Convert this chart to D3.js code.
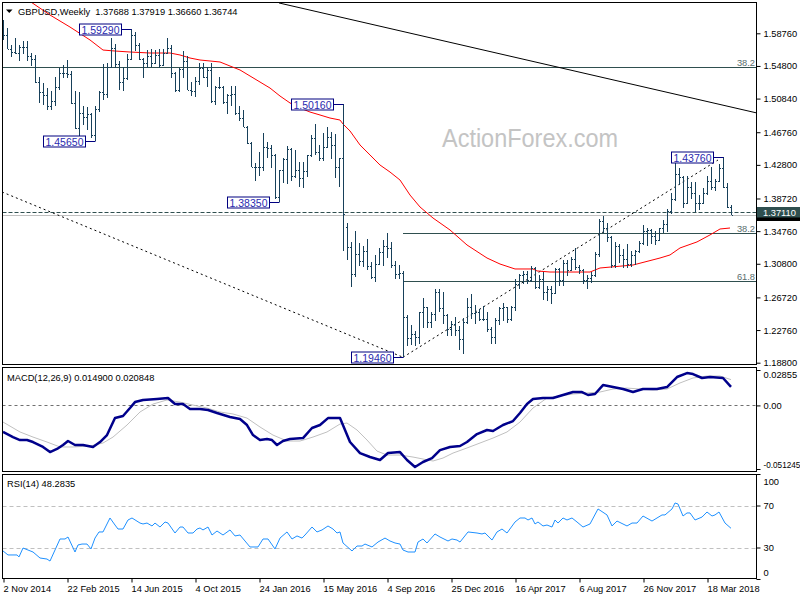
<!DOCTYPE html>
<html><head><meta charset="utf-8">
<script src="https://cdn.jsdelivr.net/npm/d3@7"></script>
<style>
body{margin:0;background:#fff}
svg{display:block}
text{font-family:"Liberation Sans",Arial,sans-serif}
</style>
</head><body>
<svg id="c" width="800" height="600"></svg>
<script>
// ---------- DATA ----------
const title = "GBPUSD,Weekly  1.37688 1.37919 1.36660 1.36744";
const macdTitle = "MACD(12,26,9) 0.014900 0.020848";
const rsiTitle = "RSI(14) 48.2835";

const opens = [1.5985,1.5860,1.5690,1.5650,1.5640,1.5705,1.5710,1.5600,1.5560,1.5290,1.5160,1.5130,1.5000,1.5050,1.5230,1.5400,1.5390,1.5380,1.5030,1.4730,1.4910,1.4860,1.4900,1.4640,1.4960,1.5160,1.5140,1.5470,1.5700,1.5500,1.5280,1.5330,1.5570,1.5860,1.5740,1.5560,1.5510,1.5600,1.5510,1.5610,1.5490,1.5640,1.5700,1.5400,1.5190,1.5440,1.5540,1.5190,1.5180,1.5300,1.5460,1.5350,1.5430,1.5050,1.5220,1.5220,1.5040,1.5130,1.5140,1.4910,1.4850,1.4740,1.4540,1.4260,1.4260,1.4250,1.4500,1.4490,1.4400,1.3890,1.4220,1.4350,1.4470,1.4140,1.4220,1.4120,1.4200,1.4400,1.4610,1.4440,1.4360,1.4500,1.4620,1.4520,1.4250,1.4360,1.3530,1.3280,1.2950,1.3200,1.3110,1.3230,1.3050,1.2920,1.3080,1.3220,1.3300,1.3270,1.3070,1.2960,1.2970,1.2430,1.2180,1.2230,1.2190,1.2490,1.2550,1.2370,1.2470,1.2740,1.2540,1.2460,1.2290,1.2350,1.2280,1.2170,1.2370,1.2560,1.2480,1.2490,1.2410,1.2410,1.2290,1.2190,1.2400,1.2540,1.2550,1.2410,1.2560,1.2830,1.2940,1.2960,1.2880,1.3030,1.2800,1.2890,1.2740,1.2780,1.2720,1.3020,1.2880,1.3090,1.3000,1.3140,1.3040,1.3010,1.2880,1.2910,1.2940,1.3200,1.3600,1.3510,1.3400,1.3070,1.3290,1.3190,1.3140,1.3080,1.3190,1.3230,1.3330,1.3480,1.3490,1.3420,1.3370,1.3510,1.3560,1.3720,1.3860,1.4170,1.4130,1.3820,1.4010,1.3940,1.3820,1.3820,1.3940,1.4090,1.4010,1.4090,1.4240,1.4011,1.3769];
const highs = [1.6040,1.5945,1.5740,1.5825,1.5735,1.5785,1.5785,1.5635,1.5615,1.5340,1.5270,1.5215,1.5170,1.5350,1.5450,1.5490,1.5550,1.5420,1.5170,1.5160,1.4990,1.4980,1.4910,1.5000,1.5170,1.5500,1.5520,1.5815,1.5750,1.5540,1.5470,1.5620,1.5929,1.5890,1.5760,1.5580,1.5675,1.5690,1.5670,1.5690,1.5690,1.5820,1.5740,1.5410,1.5460,1.5660,1.5600,1.5280,1.5340,1.5510,1.5510,1.5470,1.5510,1.5240,1.5340,1.5240,1.5140,1.5240,1.5240,1.4990,1.4940,1.4750,1.4560,1.4300,1.4440,1.4670,1.4560,1.4520,1.4410,1.4220,1.4360,1.4510,1.4480,1.4460,1.4320,1.4310,1.4400,1.4640,1.4770,1.4520,1.4670,1.4740,1.4680,1.4660,1.4360,1.5016,1.3570,1.3340,1.3480,1.3330,1.3290,1.3380,1.3100,1.3190,1.3270,1.3370,1.3450,1.3340,1.3110,1.3060,1.2990,1.2460,1.2340,1.2270,1.2500,1.2670,1.2560,1.2500,1.2770,1.2770,1.2740,1.2470,1.2390,1.2440,1.2330,1.2420,1.2670,1.2710,1.2580,1.2530,1.2570,1.2490,1.2310,1.2420,1.2550,1.2610,1.2560,1.2570,1.2900,1.2950,1.2990,1.2990,1.3050,1.3040,1.2940,1.2980,1.2810,1.2810,1.3030,1.3030,1.3120,1.3120,1.3160,1.3270,1.3070,1.3020,1.2940,1.2980,1.3220,1.3620,1.3660,1.3580,1.3420,1.3340,1.3320,1.3260,1.3320,1.3230,1.3250,1.3360,1.3550,1.3520,1.3500,1.3480,1.3520,1.3610,1.3750,1.3940,1.4345,1.4240,1.4140,1.4150,1.4070,1.4070,1.3920,1.4000,1.4140,1.4250,1.4110,1.4290,1.4376,1.4058,1.3792];
const lows = [1.5790,1.5680,1.5590,1.5620,1.5540,1.5620,1.5540,1.5485,1.5270,1.5035,1.5010,1.4950,1.4950,1.5000,1.5190,1.5330,1.5330,1.5020,1.4720,1.4630,1.4760,1.4700,1.4600,1.4565,1.4920,1.5070,1.5090,1.5450,1.5450,1.5190,1.5170,1.5310,1.5550,1.5660,1.5550,1.5330,1.5450,1.5470,1.5500,1.5460,1.5480,1.5620,1.5330,1.5160,1.5160,1.5330,1.5190,1.5110,1.5100,1.5250,1.5330,1.5220,1.5030,1.5010,1.5200,1.5020,1.4895,1.5000,1.4880,1.4810,1.4740,1.4530,1.4260,1.4080,1.4150,1.4200,1.4360,1.4240,1.3870,1.3835,1.4060,1.4050,1.4080,1.4120,1.4010,1.4000,1.4130,1.4380,1.4400,1.4330,1.4330,1.4490,1.4350,1.4120,1.4010,1.3229,1.3120,1.2798,1.2920,1.3050,1.3040,1.3010,1.2890,1.2860,1.3060,1.3050,1.3150,1.3030,1.2900,1.2900,1.1946,1.2080,1.2090,1.2080,1.2110,1.2300,1.2300,1.2300,1.2390,1.2500,1.2350,1.2200,1.2200,1.2200,1.2040,1.1990,1.2350,1.2410,1.2350,1.2380,1.2380,1.2250,1.2110,1.2110,1.2340,1.2380,1.2360,1.2380,1.2510,1.2780,1.2840,1.2840,1.2860,1.2780,1.2770,1.2640,1.2630,1.2590,1.2710,1.2810,1.2810,1.2930,1.2990,1.3010,1.2950,1.2840,1.2770,1.2850,1.2920,1.3160,1.3450,1.3340,1.3030,1.3030,1.3090,1.3030,1.3030,1.3040,1.3060,1.3210,1.3310,1.3300,1.3320,1.3310,1.3360,1.3450,1.3460,1.3680,1.3840,1.4030,1.3760,1.3810,1.3860,1.3710,1.3730,1.3810,1.3910,1.3980,1.3960,1.4070,1.4004,1.3758,1.3666];
const closes = [1.5860,1.5690,1.5650,1.5640,1.5705,1.5710,1.5600,1.5560,1.5290,1.5160,1.5130,1.5000,1.5050,1.5230,1.5400,1.5390,1.5380,1.5030,1.4730,1.4910,1.4860,1.4900,1.4640,1.4960,1.5160,1.5140,1.5470,1.5700,1.5500,1.5280,1.5330,1.5570,1.5860,1.5740,1.5560,1.5510,1.5600,1.5510,1.5610,1.5490,1.5640,1.5700,1.5400,1.5190,1.5440,1.5540,1.5190,1.5180,1.5300,1.5460,1.5350,1.5430,1.5050,1.5220,1.5220,1.5040,1.5130,1.5140,1.4910,1.4850,1.4740,1.4540,1.4260,1.4260,1.4250,1.4500,1.4490,1.4400,1.3890,1.4220,1.4350,1.4470,1.4140,1.4220,1.4120,1.4200,1.4400,1.4610,1.4440,1.4360,1.4500,1.4620,1.4520,1.4250,1.4360,1.3680,1.3280,1.2950,1.3200,1.3110,1.3230,1.3050,1.2920,1.3080,1.3220,1.3300,1.3270,1.3070,1.2960,1.2970,1.2430,1.2180,1.2230,1.2190,1.2490,1.2550,1.2370,1.2470,1.2740,1.2540,1.2460,1.2290,1.2350,1.2280,1.2170,1.2370,1.2560,1.2480,1.2490,1.2410,1.2410,1.2290,1.2190,1.2400,1.2540,1.2550,1.2410,1.2560,1.2830,1.2940,1.2960,1.2880,1.3030,1.2800,1.2890,1.2740,1.2780,1.2720,1.3020,1.2880,1.3090,1.3000,1.3140,1.3040,1.3010,1.2880,1.2910,1.2940,1.3200,1.3600,1.3510,1.3400,1.3070,1.3290,1.3190,1.3140,1.3080,1.3190,1.3230,1.3330,1.3480,1.3490,1.3420,1.3370,1.3510,1.3560,1.3720,1.3860,1.4170,1.4130,1.3820,1.4010,1.3940,1.3820,1.3820,1.3940,1.4090,1.4010,1.4090,1.4240,1.4011,1.3769,1.3674];

const maWeeks = [6.25,11.75,16.75,21.75,25,28,31.75,36.75,41.75,44.25,46.75,49.25,51.75,54.25,56.75,59.25,61.75,64.25,66.75,69.25,71.75,74.25,76.75,79.25,81.75,84.25,85,86.75,89.25,91.75,94.25,96.75,99.25,101.75,104.25,107.5,111.75,116,121,124.25,128,132.5,133.5,136.75,145,146.75,149.25,157.5,164.25,166.75,169.25,173.5,176.75,179.25,181.75];
const maValues = [1.6280,1.6098,1.5952,1.5795,1.5673,1.5661,1.5649,1.5637,1.5637,1.5613,1.5576,1.5552,1.5540,1.5528,1.5479,1.5431,1.5358,1.5285,1.5212,1.5115,1.5031,1.4970,1.4921,1.4885,1.4848,1.4824,1.4776,1.4691,1.4521,1.4400,1.4278,1.4193,1.4096,1.3914,1.3769,1.3635,1.3490,1.3308,1.3150,1.3077,1.3017,1.3017,1.2993,1.2980,1.2980,1.2980,1.3029,1.3065,1.3150,1.3187,1.3272,1.3345,1.3430,1.3502,1.3514];

const macdWeeks = [0,2.5,4.25,6,7.5,10,11.75,13.5,15,16.25,18,20,22.5,24.25,26,28,30,31.75,33,35,38.5,41.25,43,45,46.75,49.25,51.25,53.5,56.75,59.25,61,62.5,64.25,66,67.25,68.5,70,71.75,75,77.25,79.25,81.25,84.25,86.75,89.25,91.75,94.25,96.25,99.25,101,103,105,107.25,109.25,111.75,114.25,116,118.5,121,122.5,125,127.5,129.25,131,132.5,135,137.5,140,142.5,144.75,146.25,148,150,152.5,155,157.5,160,163.5,166,168.5,171,172.5,174.75,176.75,180,182];
const macdValues = [-0.0214,-0.0255,-0.0279,-0.0279,-0.0295,-0.0335,-0.0376,-0.0351,-0.0319,-0.0287,-0.0319,-0.0319,-0.0335,-0.0295,-0.0239,-0.0102,-0.0085,-0.0021,0.0027,0.0044,0.0052,0.0060,0.0011,0.0011,-0.0029,-0.0029,-0.0037,-0.0061,-0.0093,-0.0110,-0.0158,-0.0239,-0.0279,-0.0271,-0.0279,-0.0319,-0.0287,-0.0271,-0.0263,-0.0182,-0.0158,-0.0102,-0.0102,-0.0295,-0.0384,-0.0416,-0.0440,-0.0384,-0.0376,-0.0440,-0.0496,-0.0456,-0.0424,-0.0360,-0.0335,-0.0327,-0.0295,-0.0231,-0.0198,-0.0206,-0.0158,-0.0126,-0.0061,0.0011,0.0052,0.0060,0.0060,0.0084,0.0108,0.0108,0.0084,0.0092,0.0164,0.0148,0.0132,0.0108,0.0132,0.0132,0.0148,0.0229,0.0261,0.0253,0.0221,0.0229,0.0221,0.0149];
const signalWeeks = [0,4.25,7.5,11,14.25,17.5,21.75,25,27.5,31,34.25,37.5,41,44.25,47.5,51,54.25,57.5,61,64.25,67.5,71,74.25,77.5,81,84.25,86,88.5,91,93.5,96,99.25,102.5,105,107.5,110,112.5,116,119.25,122.5,126,129.25,132.5,136,139.25,142.5,146,149.25,152.5,156,159.25,162.5,166,169.25,172.5,176,179.25,182];
const signalValues = [-0.0134,-0.0214,-0.0255,-0.0295,-0.0335,-0.0335,-0.0327,-0.0303,-0.0255,-0.0158,-0.0053,0.0011,0.0044,0.0027,0.0003,-0.0021,-0.0053,-0.0069,-0.0102,-0.0174,-0.0239,-0.0287,-0.0287,-0.0255,-0.0214,-0.0150,-0.0142,-0.0198,-0.0279,-0.0368,-0.0400,-0.0400,-0.0416,-0.0432,-0.0448,-0.0424,-0.0384,-0.0343,-0.0303,-0.0263,-0.0214,-0.0134,-0.0021,0.0060,0.0076,0.0092,0.0100,0.0108,0.0132,0.0140,0.0132,0.0124,0.0132,0.0181,0.0221,0.0237,0.0237,0.0208];

const rsiWeeks = [0,1.25,3.5,4,5,6.25,7.5,9.25,11,11.75,13,14.25,15.5,16.25,18,18.75,19.75,21,22,23,24,25,26.75,28,28.75,30,31.25,32.25,34.25,35,36,37.25,38,39.25,40.5,41.25,43,44.25,45,46.25,47.5,48.5,49.25,50,51.25,52.25,53.5,55,56.75,58,59.25,61.75,63.75,65,66.25,68,69.25,71,72.25,73.5,74.75,75.5,77.25,78.5,79.75,81.25,82.5,83.5,84.25,85,87.25,88.5,89.75,90.5,92.25,93.75,95.5,96.75,98,99.25,100,101.25,103,103.75,105,106,108,109.25,111.25,112.25,113.5,114.25,116.25,118.5,119.75,120.5,122.25,123.5,124.75,126,128,129.25,130.5,131.25,132.25,133,133.75,135,136,137.25,138,138.75,140,141,142.25,143.5,145,146.75,148.75,151,152.25,153.5,156,157.25,158.5,160,162.25,163.5,164.75,165.5,167.25,168,168.75,170,171,171.75,173,174.75,176,177.25,178,179,180.5,182];
const rsiValues = [26.7,22.9,22.9,21.0,29.5,27.6,25.7,20.0,19.0,17.1,27.6,38.1,38.1,40.0,25.7,32.4,33.3,33.3,28.6,39.0,44.8,44.8,58.1,51.4,47.6,47.6,56.2,58.1,53.3,52.4,53.3,50.5,53.3,49.5,54.3,53.3,43.8,49.5,49.5,43.8,43.8,47.6,48.6,46.7,49.5,41.9,45.7,41.9,46.7,41.0,41.9,30.5,30.5,38.1,38.1,28.6,39.0,44.8,38.1,41.0,39.0,41.9,49.5,44.8,46.7,50.5,47.6,43.8,44.8,34.3,26.7,31.4,31.4,33.3,30.5,35.2,39.0,36.2,34.3,33.3,27.6,25.7,25.7,35.2,38.1,34.3,42.9,40.0,36.2,38.1,37.1,35.2,44.8,43.8,42.9,43.8,37.1,44.8,47.6,43.8,54.3,58.1,58.1,56.2,58.1,52.4,54.3,50.5,51.4,49.5,56.2,53.3,58.1,56.2,58.1,54.3,49.5,52.4,66.7,61.0,50.5,55.2,50.5,53.3,53.3,60.0,55.2,58.1,61.0,61.0,66.7,72.4,71.4,60.0,62.9,62.9,56.2,59.0,63.8,60.0,61.0,63.8,53.3,48.3];

const priceTicks = [1.58760,1.54800,1.50840,1.46760,1.42800,1.38720,1.34760,1.30800,1.26720,1.22760,1.18800];
const macdTicks = [0.02855,0.0,-0.051245];
const macdTickLabels = ["0.02855","0.00","-0.051245"];
const rsiTicks = [100,70,30,0];
const dateWeeks = [0,16,32,48,64,80,96,112,128,144,160,176];
const dateLabels = ["2 Nov 2014","22 Feb 2015","14 Jun 2015","4 Oct 2015","24 Jan 2016","15 May 2016","4 Sep 2016","25 Dec 2016","16 Apr 2017","6 Aug 2017","26 Nov 2017","18 Mar 2018"];

const swingWeeks = [32,23,85,69,100,180];
const swingPrices = [1.5929,1.4565,1.5016,1.3835,1.1946,1.4376];
const swingLabels = ["1.59290","1.45650","1.50160","1.38350","1.19460","1.43760"];

const fibPrices = [1.5470,1.3448,1.2874];
const fibStartWeeks = [-1,100,100];
const fibLabels = ["38.2","38.2","61.8"];
const supportLine = 1.3711, bidPrice = 1.36744;
const trendSolid = {weeks:[69,188.5], prices:[1.6244,1.4909]};
const trendDot1 = {weeks:[-0.25,100], prices:[1.3951,1.1946]};
const trendDot2 = {weeks:[100,178.75], prices:[1.1946,1.4339]};

// ---------- LAYOUT ----------
const svg = d3.select("#c");
const L = 2.5, R = 756.5;
const main = {t:2.5, b:364.5}, mp = {t:367.5, b:471.5}, rp = {t:474.5, b:578.5};
const x = d3.scaleLinear().domain([0,176]).range([3,707]);
const y = d3.scaleLinear().domain([1.1880,1.5876]).range([362.7,33.3]);
const ym = d3.scaleLinear().domain([-0.051245,0.02855]).range([469,370]);
const yr = d3.scaleLinear().domain([0,100]).range([579,474]);
const FS = 9.3;
const barColor = "#17405a";

const defs = svg.append("defs");
[["cm",main],["cmacd",mp],["crsi",rp]].forEach(([id,p])=>{
  defs.append("clipPath").attr("id",id).append("rect")
    .attr("x",L).attr("y",p.t).attr("width",R-L).attr("height",p.b-p.t);
});

const gMain = svg.append("g").attr("clip-path","url(#cm)");

// watermark
gMain.append("text").attr("x",442).attr("y",147).attr("font-size",25)
  .attr("textLength",176).attr("lengthAdjust","spacingAndGlyphs")
  .attr("fill","#c4c4c4").text("ActionForex.com");

// fib lines
fibPrices.forEach((p,k)=>{
  const yy = Math.round(y(p))+0.5;
  gMain.append("line").attr("x1",Math.max(L,x(fibStartWeeks[k]))).attr("x2",R)
    .attr("y1",yy).attr("y2",yy).attr("stroke","#2f4f4f").attr("stroke-width",1);
  gMain.append("text").attr("x",755).attr("y",yy-2).attr("text-anchor","end")
    .attr("font-size",FS).attr("fill","#5a6e6e").text(fibLabels[k]);
});

// bid line & support line
const yb = Math.round(y(bidPrice))+0.5;
gMain.append("line").attr("x1",L).attr("x2",R).attr("y1",yb).attr("y2",yb)
  .attr("stroke","#c0c0c0").attr("stroke-width",1);
const ys = Math.round(y(supportLine))+0.5;
gMain.append("line").attr("x1",L).attr("x2",R).attr("y1",ys).attr("y2",ys)
  .attr("stroke","#2f4f4f").attr("stroke-width",1).attr("stroke-dasharray","4,2");

// trend lines
const tl = (t)=>d3.line().x(d=>x(d[0])).y(d=>y(d[1]))(t.weeks.map((w,k)=>[w,t.prices[k]]));
gMain.append("path").attr("d",tl(trendSolid)).attr("stroke","#000").attr("fill","none").attr("stroke-width",1);
gMain.append("path").attr("d",tl(trendDot1)).attr("stroke","#000").attr("fill","none").attr("stroke-width",1).attr("stroke-dasharray","2,3");
gMain.append("path").attr("d",tl(trendDot2)).attr("stroke","#000").attr("fill","none").attr("stroke-width",1).attr("stroke-dasharray","2,3");

// MA line
gMain.append("path")
  .attr("d", d3.line().x(d=>x(d[0])).y(d=>y(d[1]))(maWeeks.map((w,k)=>[w,maValues[k]])))
  .attr("stroke","#ff0000").attr("fill","none").attr("stroke-width",1);

// OHLC bars
const gb = gMain.append("g").attr("stroke",barColor).attr("stroke-width",1).attr("shape-rendering","crispEdges");
highs.forEach((h,i)=>{
  const px = Math.round(x(i))+0.5;
  gb.append("line").attr("x1",px).attr("x2",px).attr("y1",y(h)).attr("y2",y(lows[i]));
  const yo = Math.round(y(opens[i]))+0.5, yc = Math.round(y(closes[i]))+0.5;
  gb.append("line").attr("x1",px-1.5).attr("x2",px).attr("y1",yo).attr("y2",yo);
  gb.append("line").attr("x1",px).attr("x2",px+1.5).attr("y1",yc).attr("y2",yc);
});

// swing labels
swingWeeks.forEach((w,k)=>{
  const bx = Math.round(x(w)), by = Math.round(y(swingPrices[k]))+0.5;
  const r = bx-10, l = r-42;
  gMain.append("line").attr("x1",r).attr("x2",bx+0.5).attr("y1",by).attr("y2",by).attr("stroke","#000080");
  gMain.append("rect").attr("x",l+0.5).attr("y",by-5.5).attr("width",42).attr("height",11)
    .attr("fill","#fff").attr("stroke","#000080").attr("stroke-width",1);
  gMain.append("text").attr("x",l+21.5).attr("y",by+4).attr("text-anchor","middle")
    .attr("font-size",10.5).attr("fill","#2a2ab0").text(swingLabels[k]);
});

// header
svg.append("path").attr("d","M6,9.5 L12.5,9.5 L9.25,13 Z").attr("fill","#000");
svg.append("text").attr("x",18).attr("y",15).attr("font-size",FS).attr("fill","#000")
  .attr("xml:space","preserve").text(title);

// ---------- MACD ----------
const gM = svg.append("g").attr("clip-path","url(#cmacd)");
gM.append("line").attr("x1",L).attr("x2",R).attr("y1",Math.round(ym(0))+0.5).attr("y2",Math.round(ym(0))+0.5)
  .attr("stroke","#707070").attr("stroke-dasharray","3,3");
gM.append("path").attr("d",d3.line().x(d=>x(d[0])).y(d=>ym(d[1]))(signalWeeks.map((w,k)=>[w,signalValues[k]])))
  .attr("stroke","#c0c0c0").attr("fill","none").attr("stroke-width",1);
gM.append("path").attr("d",d3.line().x(d=>x(d[0])).y(d=>ym(d[1]))(macdWeeks.map((w,k)=>[w,macdValues[k]])))
  .attr("stroke","#00008b").attr("fill","none").attr("stroke-width",2.5).attr("stroke-linejoin","round");
svg.append("text").attr("x",7).attr("y",381).attr("font-size",FS).text(macdTitle);

// ---------- RSI ----------
const gR = svg.append("g").attr("clip-path","url(#crsi)");
[70,30].forEach(v=>{
  const yy = Math.round(yr(v))+0.5;
  gR.append("line").attr("x1",L).attr("x2",R).attr("y1",yy).attr("y2",yy)
    .attr("stroke","#c0c0c0").attr("stroke-dasharray","4,3");
});
gR.append("path").attr("d",d3.line().x(d=>x(d[0])).y(d=>yr(d[1]))(rsiWeeks.map((w,k)=>[w,rsiValues[k]])))
  .attr("stroke","#1e90ff").attr("fill","none").attr("stroke-width",1);
svg.append("text").attr("x",7).attr("y",487).attr("font-size",FS).text(rsiTitle);

// ---------- frames ----------
[main,mp,rp].forEach(p=>{
  svg.append("rect").attr("x",L).attr("y",p.t).attr("width",R-L).attr("height",p.b-p.t)
    .attr("fill","none").attr("stroke","#000").attr("stroke-width",1);
});

// ---------- axes ----------
function styleAxis(g){
  g.select(".domain").remove();
  g.selectAll("text").attr("font-size",FS).attr("font-family","Liberation Sans, Arial, sans-serif").attr("fill","#000");
  g.selectAll("line").attr("stroke","#000");
}
const ay = svg.append("g").attr("transform",`translate(${R},0)`)
  .call(d3.axisRight(y).tickValues(priceTicks).tickFormat(d3.format(".5f")).tickSize(4).tickPadding(3));
styleAxis(ay);

const am = svg.append("g").attr("transform",`translate(${R},0)`)
  .call(d3.axisRight(ym).tickValues(macdTicks).tickFormat((d,k)=>macdTickLabels[k]).tickSize(4).tickPadding(3));
styleAxis(am);
am.selectAll("text").attr("dy",(d,k)=> k===0 ? "0.85em" : (k===2 ? "-0.15em" : "0.32em"));
am.selectAll("text").filter((d,k)=>k===2).attr("font-size",8.2);

const ar = svg.append("g").attr("transform",`translate(${R},0)`)
  .call(d3.axisRight(yr).tickValues(rsiTicks).tickSize(4).tickPadding(3));
styleAxis(ar);
ar.selectAll("text").attr("dy",d=> d===100 ? "1.1em" : (d===0 ? "-0.38em" : "0.32em"));

const ax = svg.append("g").attr("transform",`translate(0,${rp.b})`)
  .call(d3.axisBottom(x).tickValues(dateWeeks).tickFormat((d,k)=>dateLabels[k]).tickSize(4).tickPadding(3));
styleAxis(ax);
ax.selectAll("text").attr("text-anchor","start");
ax.selectAll(".tick line").attr("transform","translate(0.5,0)");

// price label boxes on the right axis (bid box mostly hidden under the line label)
const lb = svg.append("g");
lb.append("rect").attr("x",757).attr("y",yb-5.5).attr("width",43).attr("height",11).attr("fill","#000");
lb.append("rect").attr("x",757).attr("y",ys-5.5).attr("width",43).attr("height",10.5).attr("fill","#2f4f4f");
lb.append("text").attr("x",763).attr("y",ys+3.5).attr("font-size",FS).attr("fill","#fff").text(d3.format(".5f")(supportLine));
</script>
</body></html>
